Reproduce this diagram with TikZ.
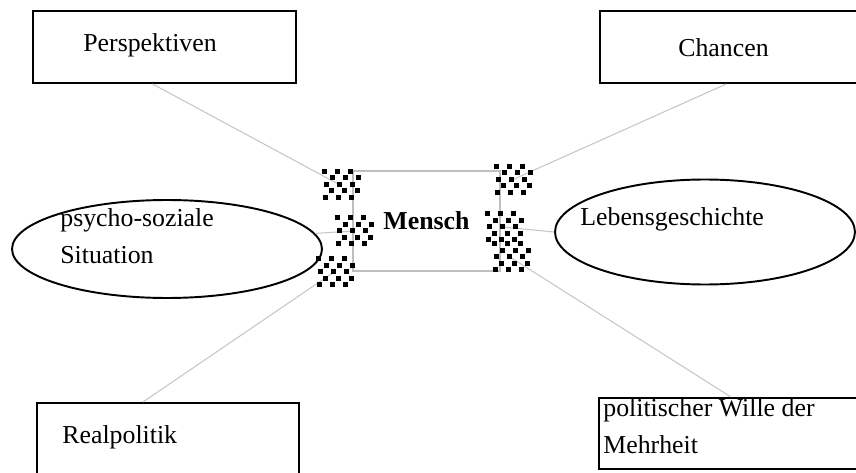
\documentclass[tikz,border=0pt]{standalone}
\usepackage{fontspec}
\setmainfont{Liberation Serif}
\usetikzlibrary{shapes.geometric}

\tikzset{
	box/.style={draw,line width=1.1pt,rectangle,inner sep=0pt,anchor=north west},
	oval/.style={draw,ellipse,line width=1.1pt,inner sep=0pt},
	txt/.style={inner sep=0pt,anchor=base west,align=left,font=\fontsize{14.7}{20.5}\selectfont},
	link/.style={gray!45,line width=0.6pt},
	pics/blob/.style={code={
		\foreach \i in {0,...,5}
		\foreach \j in {0,...,4}{
			\pgfmathtruncatemacro\k{mod(\i+\j,2)}
			\ifnum\k=0 \fill ({\i*6.5-18+mod(\j,3)},{\j*6.5-16}) rectangle ++(5,5); \fi
		}
	}}
}

\begin{document}
\begin{tikzpicture}[x=0.02cm,y=-0.02cm]
	\clip (0,0) rectangle (856,473);
	
	%outer boxes
	\node[box,minimum width=5.26cm,minimum height=1.44cm] (persp) at (32,10) {};
	\node[box,minimum width=5.26cm,minimum height=1.44cm] (chan) at (599,10) {};
	\node[box,minimum width=5.24cm,minimum height=1.6cm] (real) at (36,402) {};
	\node[box,minimum width=5.28cm,minimum height=1.42cm] (wille) at (598,397) {};
	\node[txt] (tpersp) at (83,52) {Perspektiven};
	\node[txt] (tchan) at (678,57) {Chancen};
	\node[txt] (treal) at (62,443) {Realpolitik};
	\node[txt] (twille) at (603,453) {politischer Wille der\\Mehrheit};
	
	%ellipses
	\node[oval,minimum width=6.2cm,minimum height=1.96cm] (psy) at (167,249) {};
	\node[oval,minimum width=6.0cm,minimum height=2.1cm] (leben) at (705,232) {};
	\node[txt] (tpsy) at (60,263) {psycho-soziale\\Situation};
	\node[txt] (tleben) at (580,225) {Lebensgeschichte};
	
	%centre
	\node[draw=gray!50,line width=1pt,minimum width=2.94cm,minimum height=2cm,
		font=\fontsize{14.7}{20.5}\selectfont\bfseries] (mensch) at (426.5,221) {Mensch};
	
	\coordinate (b1) at (340,185);
	\coordinate (b2) at (353,231);
	\coordinate (b3) at (334,272);
	\coordinate (b4) at (512,180);
	\coordinate (b5) at (503,227);
	\coordinate (b6) at (510,257);
	
	%grey links
	\draw[link] ([xshift=-0.24cm]persp.south) -- (b1);
	\draw[link] ([xshift=-0.1cm]chan.south) -- (b4);
	\draw[link] (psy.6) -- (b2);
	\draw[link] (leben.west) -- (b5);
	\draw[link] ([xshift=-0.5cm]real.north) -- (b3);
	\draw[link] (wille.north) -- (b6);
	
	%dithered spots
	\foreach \b in {b1,b2,b3,b4,b5,b6}
	\pic at (\b) {blob};
\end{tikzpicture}
\end{document}
